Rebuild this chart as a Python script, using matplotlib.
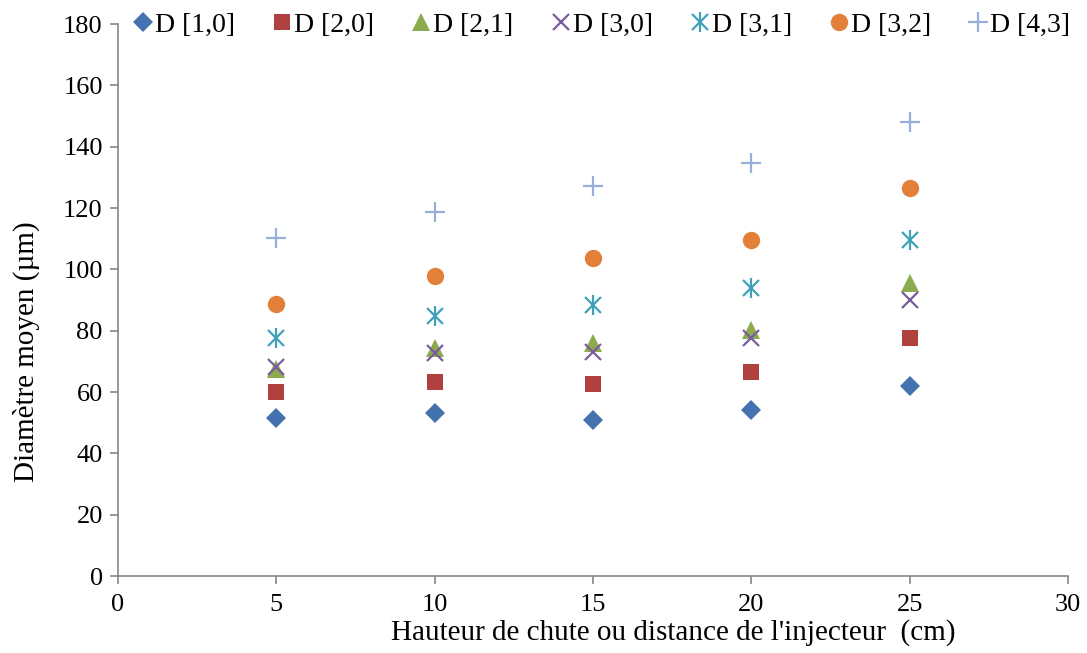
import matplotlib
matplotlib.use("Agg")
import matplotlib.pyplot as plt

plt.rcParams["font.family"] = ["Liberation Serif", "DejaVu Serif"]

x = [5, 10, 15, 20, 25]
d10 = [51.5, 53.0, 51.0, 54.0, 62.0]
d20 = [60.0, 63.3, 62.6, 66.5, 77.6]
d21 = [67.5, 74.3, 76.0, 80.2, 95.5]
d30 = [68.0, 72.7, 73.0, 77.6, 90.0]
d31 = [77.6, 84.8, 88.4, 93.9, 109.6]
d32 = [88.7, 97.8, 103.7, 109.6, 126.5]
d43 = [110.2, 118.7, 127.2, 134.7, 148.0]
labels = ["D [1,0]", "D [2,0]", "D [2,1]", "D [3,0]", "D [3,1]", "D [3,2]", "D [4,3]"]

# (marker, size, colour, edge width)
STYLE = [
    ("D", 10, "#4472AE", 0),
    ("s", 11.5, "#B0413E", 0),
    ("^", 13.5, "#8CAA4E", 0),
    ("x", 12, "#7A5C9E", 1.6),
    ("star", 0, "#3FA2B9", 0),
    ("o", 12.5, "#E2803A", 0),
    ("+", 15, "#95AEDA", 1.6),
]
series = [d10, d20, d21, d30, d31, d32, d43]

fig = plt.figure(figsize=(10.87, 6.53), dpi=100)
ax = fig.add_axes([0.1086, 0.1179, 0.8739, 0.8453])

handles = []
for ys, lab, (m, ms, c, mew) in zip(series, labels, STYLE):
    if m == "star":
        # Excel "star": an x with a vertical bar
        a, = ax.plot(x, ys, ls="", marker="x", ms=12, mew=1.6, color=c)
        b, = ax.plot(x, ys, ls="", marker="|", ms=15, mew=1.6, color=c)
        handles.append((a, b))
        continue
    if mew:
        a, = ax.plot(x, ys, ls="", marker=m, ms=ms, mew=mew, color=c)
    else:
        a, = ax.plot(x, ys, ls="", marker=m, ms=ms, color=c, mec=c, mew=0)
    handles.append(a)

ax.set_xlim(0, 30)
ax.set_ylim(0, 180)
ax.set_xticks(range(0, 31, 5))
ax.set_yticks(range(0, 181, 20))
for s in ("top", "right"):
    ax.spines[s].set_visible(False)
for s in ("left", "bottom"):
    ax.spines[s].set_color("#868686")
    ax.spines[s].set_linewidth(1.2)
ax.tick_params(direction="out", length=6, width=1.2, color="#868686",
               labelsize=19)
ax.tick_params(axis="x", pad=7)
ax.tick_params(axis="y", pad=5)
ax.set_xlabel("Hauteur de chute ou distance de l'injecteur  (cm)", fontsize=21)
ax.set_ylabel("Diamètre moyen (µm)", fontsize=21)
ax.xaxis.set_label_coords(0.584, -0.078)
ax.yaxis.set_label_coords(-0.082, 0.406)

ax.legend(handles, labels, loc="center left", bbox_to_anchor=(0.002, 0.998),
          ncol=7, frameon=False, fontsize=20, handletextpad=0.0,
          columnspacing=1.27, handlelength=0.86, borderaxespad=0)

fig.savefig("out.png", dpi=100, facecolor="white")
